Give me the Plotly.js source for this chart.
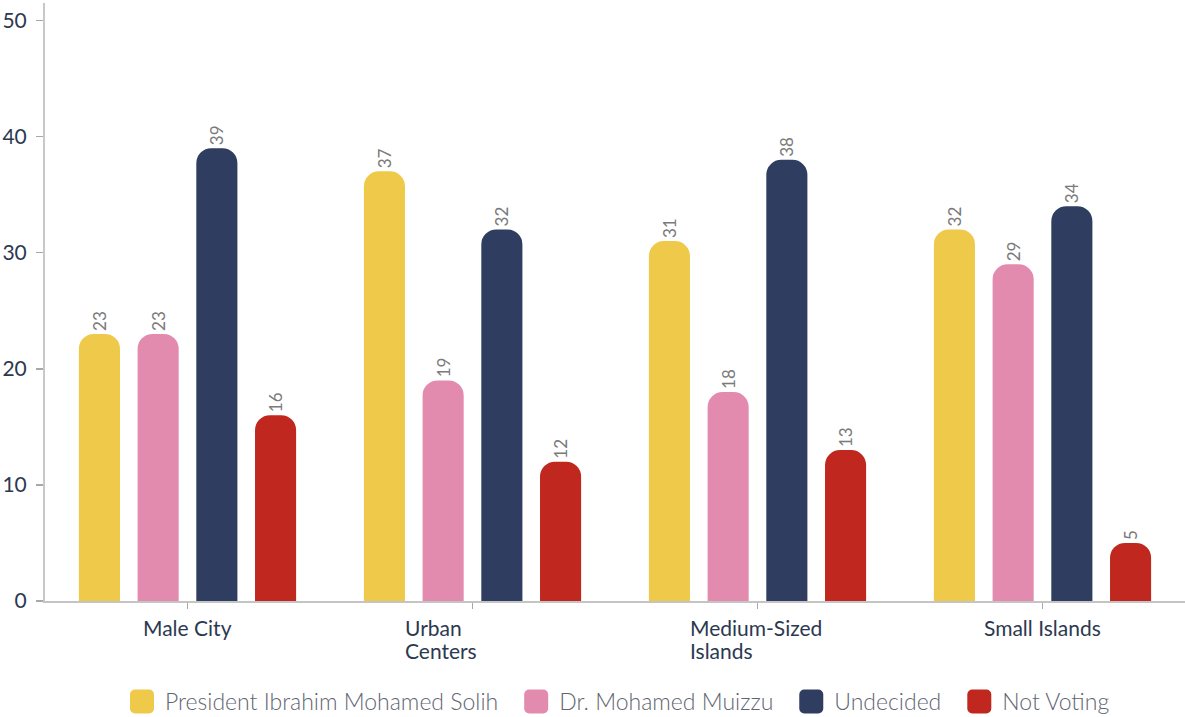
<!DOCTYPE html>
<html>
<head>
<meta charset="utf-8">
<script src="https://cdn.plot.ly/plotly-3.0.1.min.js"></script>
<style>html,body{margin:0;padding:0;background:#fff;}#chart{width:1185px;height:717px;}</style>
</head>
<body>
<div id="chart"></div>
<script>
var categories = ["Male City", "Urban<br>Centers", "Medium-Sized<br>Islands", "Small Islands"];
var seriesNames = ["President Ibrahim Mohamed Solih", "Dr. Mohamed Muizzu", "Undecided", "Not Voting"];
var solih = [23, 37, 31, 32];
var muizzu = [23, 19, 18, 29];
var undecided = [39, 32, 38, 34];
var notVoting = [16, 12, 13, 5];
var colors = ["#EFCA4A", "#E38BAE", "#2F3D60", "#C0281F"];
var yTicks = [0, 10, 20, 30, 40, 50];

var values = [solih, muizzu, undecided, notVoting];
var FONT = "Lato, 'Open Sans', sans-serif";

var traces = values.map(function (v, i) {
  return {
    type: "bar",
    name: seriesNames[i],
    x: categories,
    y: v,
    text: v.map(String),
    textposition: "outside",
    textangle: -90,
    textfont: {family: FONT, size: 17, color: "#7a7a7a"},
    cliponaxis: false,
    marker: {color: colors[i], cornerradius: 15},
    hoverinfo: "x+y+name"
  };
});

// category labels drawn as annotations so wrapped labels are left aligned like the reference
var annotations = [];
categories.forEach(function (c) {
  var lines = c.split("<br>");
  lines.forEach(function (ln, k) {
    annotations.push({
      x: c, xref: "x", y: 0, yref: "paper",
      text: ln, showarrow: false,
      xanchor: lines.length > 1 ? "left" : "center",
      xshift: lines.length > 1 ? -70 : 0,
      yanchor: "top", yshift: -12 - k * 23,
      font: {family: FONT, size: 21, color: "#2B3950"}
    });
  });
});

var layout = {
  width: 1185, height: 717,
  margin: {l: 45, r: 0, t: 3, b: 116, autoexpand: false},
  paper_bgcolor: "#ffffff", plot_bgcolor: "#ffffff",
  barmode: "group",
  bargap: 0.176,
  bargroupgap: 0.30,
  font: {family: FONT},
  xaxis: {
    type: "category",
    showticklabels: false,
    ticks: "outside", ticklen: 6, tickcolor: "#a8a8a8", tickwidth: 1.5,
    showline: true, linecolor: "#c4c4c4", linewidth: 2,
    showgrid: false, zeroline: false, fixedrange: true
  },
  yaxis: {
    range: [0, 51.5],
    tickvals: yTicks,
    ticktext: yTicks.map(String),
    ticks: "outside", ticklen: 7, tickcolor: "#a8a8a8", tickwidth: 1.5,
    ticklabelstandoff: 5,
    showline: true, linecolor: "#c8c8c8", linewidth: 2,
    showgrid: false, zeroline: false,
    tickfont: {family: FONT, size: 21, color: "#2B3950"},
    fixedrange: true
  },
  showlegend: true,
  legend: {
    orientation: "h",
    x: 0.5, xanchor: "center",
    y: -0.168, yanchor: "middle",
    font: {family: FONT, size: 23, color: "#5F6571", weight: 300},
    traceorder: "normal"
  },
  annotations: annotations
};

Plotly.newPlot("chart", traces, layout, {displayModeBar: false, staticPlot: true}).then(function (gd) {
  // enlarge legend swatches to the rounded squares used in the reference
  var r = 12, c = 5;
  var d = "M" + (-r + c) + "," + (-r) + "H" + (r - c) + "A" + c + "," + c + " 0 0 1 " + r + "," + (-r + c) +
          "V" + (r - c) + "A" + c + "," + c + " 0 0 1 " + (r - c) + "," + r +
          "H" + (-r + c) + "A" + c + "," + c + " 0 0 1 " + (-r) + "," + (r - c) +
          "V" + (-r + c) + "A" + c + "," + c + " 0 0 1 " + (-r + c) + "," + (-r) + "Z";
  gd.querySelectorAll(".legend .legendpoints path").forEach(function (p) {
    p.setAttribute("d", d);
    p.style.strokeWidth = "0px";
  });
  // remove legend clipping so entries can be spaced more widely
  gd.querySelectorAll(".legend .scrollbox, .legend [clip-path]").forEach(function (e) {
    e.removeAttribute("clip-path");
  });
  var extra = 16;
  var items = gd.querySelectorAll(".legend .traces");
  var n = items.length;
  items.forEach(function (t, i) {
    var m = /translate\(([-\d.]+)[ ,]+([-\d.]+)\)/.exec(t.getAttribute("transform") || "");
    if (m) {
      var x = parseFloat(m[1]) + i * extra - (n - 1) * extra / 2 + 2;
      t.setAttribute("transform", "translate(" + x + "," + m[2] + ")");
    }
    var txt = t.querySelector(".legendtext");
    if (txt) {
      txt.setAttribute("x", parseFloat(txt.getAttribute("x") || 0) + 3);
    }
  });
});
</script>
</body>
</html>
